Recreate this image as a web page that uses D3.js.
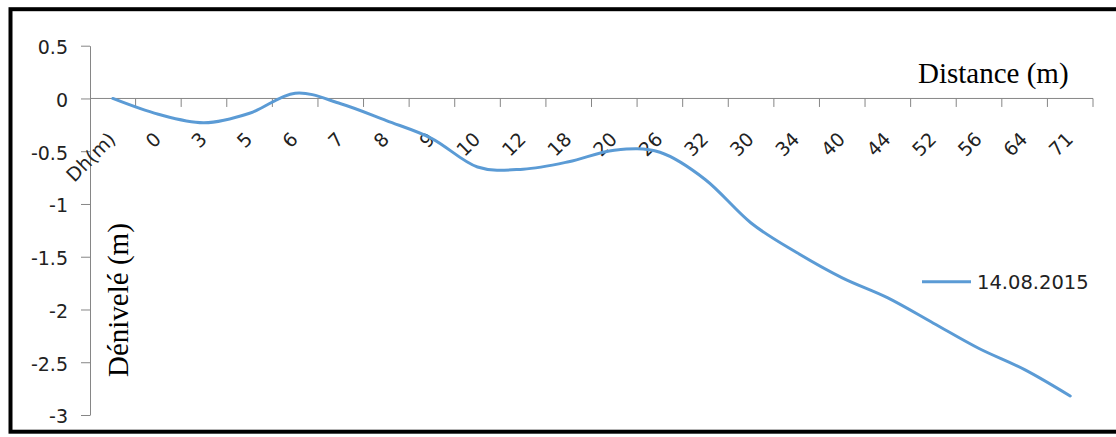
<!DOCTYPE html>
<html><head><meta charset="utf-8">
<script src="https://cdn.jsdelivr.net/npm/d3@7"></script>
<style>html,body{margin:0;padding:0;background:#fff;} svg{display:block;}</style>
</head><body><svg id="c" width="1116" height="437"></svg>
<script>
const categories = ["Dh(m)","0","3","5","6","7","8","9","10","12","18","20","26","32","30","34","40","44","52","56","64","71"];
const values = [0,-0.15,-0.23,-0.14,0.05,-0.05,-0.21,-0.38,-0.65,-0.67,-0.60,-0.49,-0.51,-0.77,-1.18,-1.46,-1.70,-1.89,-2.13,-2.37,-2.57,-2.82];
const yTicks = [0.5,0,-0.5,-1,-1.5,-2,-2.5,-3];
const seriesName = "14.08.2015";
const xTitle = "Distance (m)";
const yTitle = "Dénivelé (m)";

const svg = d3.select("#c");
const axisColor = "#868686";
const lineColor = "#5B9BD5";

// frame
svg.append("rect").attr("x",10.5).attr("y",9.2).attr("width",1120).attr("height",422.5)
  .attr("fill","#fff").attr("stroke","#000").attr("stroke-width",4);

const x = d3.scaleBand().domain(categories).range([90,1093]).padding(0);
const y = d3.scaleLinear().domain([-3,0.5]).range([415,45.7]);
const cx = c => x(c) + x.bandwidth()/2;

// Y axis
const gy = svg.append("g").attr("transform","translate(90,0)")
  .call(d3.axisLeft(y).tickValues(yTicks).tickFormat(d=>String(d)).tickSize(9).tickSizeOuter(0).tickPadding(13));
gy.select(".domain").attr("stroke",axisColor);
gy.selectAll(".tick line").attr("stroke",axisColor);
gy.selectAll(".tick text").attr("font-family","DejaVu Sans").attr("font-size",19).attr("fill","#222").attr("dy","0.42em");

// X axis at y=0
const y0 = y(0);
const gx = svg.append("g").attr("transform",`translate(0,${y0})`);
gx.append("line").attr("x1",x.range()[0]).attr("x2",x.range()[1]).attr("stroke",axisColor);
gx.selectAll("line.tk").data(categories).enter().append("line").attr("class","tk")
  .attr("x1",d=>x(d)+x.bandwidth()).attr("x2",d=>x(d)+x.bandwidth())
  .attr("y1",0).attr("y2",8.5).attr("stroke",axisColor);
gx.selectAll("text").data(categories).enter().append("text")
  .attr("transform",d=>`translate(${cx(d)+4},${42}) rotate(-45)`)
  .attr("text-anchor","end")
  .attr("font-family","DejaVu Sans").attr("font-size",19).attr("fill","#222")
  .text(d=>d);

// line
const line = d3.line().x((d,i)=>cx(categories[i])).y(d=>y(d)).curve(d3.curveCardinal.tension(0));
svg.append("path").datum(values).attr("d",line).attr("fill","none")
  .attr("stroke",lineColor).attr("stroke-width",3).attr("stroke-linecap","round");

// titles
svg.append("text").attr("x",918).attr("y",83.3).attr("font-family","Liberation Serif")
  .attr("font-size",29).attr("fill","#000").text(xTitle);
svg.append("text").attr("transform","translate(128,377) rotate(-90)").attr("font-family","Liberation Serif")
  .attr("font-size",29).attr("fill","#000").text(yTitle);

// legend
svg.append("line").attr("x1",922).attr("x2",971).attr("y1",281.7).attr("y2",281.7)
  .attr("stroke",lineColor).attr("stroke-width",3);
svg.append("text").attr("x",977).attr("y",289).attr("font-family","DejaVu Sans")
  .attr("font-size",19.5).attr("fill","#222").text(seriesName);
</script></body></html>
